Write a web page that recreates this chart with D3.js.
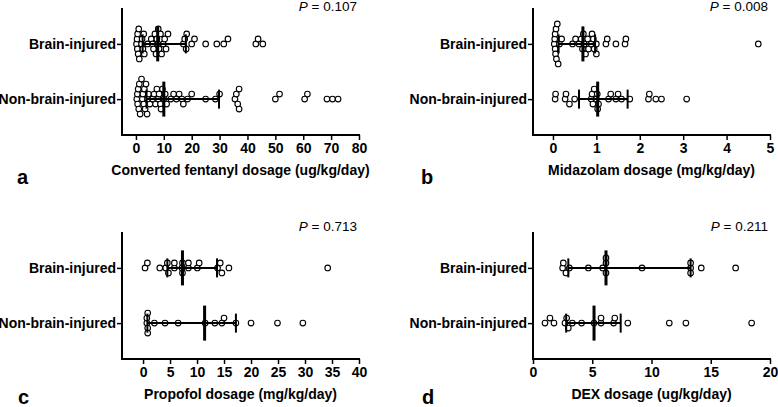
<!DOCTYPE html>
<html>
<head>
<meta charset="utf-8">
<script src="https://cdn.jsdelivr.net/npm/d3@7"></script>
<style>
  body { margin: 0; background: #fff; }
  svg { display: block; font-family: "Liberation Sans", Arial, sans-serif; }
</style>
</head>
<body>
<svg width="778" height="407"></svg>
<script>
var groups = ["Brain-injured", "Non-brain-injured"];

// a: converted fentanyl (ug/kg/day)
var fentanylBrain = [0.2, 0.4, 0.5, 0.6, 0.8, 1.0, 1.2, 2.0, 2.2, 2.5, 2.8, 3.0, 4.2, 5.5, 6.0, 6.3, 6.8, 7.2, 7.5, 7.8,
  8.0, 8.3, 8.8, 9.2, 9.8, 10.3, 10.8, 11.5, 17.0, 17.5, 18.0, 18.2, 20.0, 21.0, 25.0, 29.0, 31.5, 33.0, 43.0, 43.8, 45.5];
var fentanylNon = [0.3, 0.5, 0.6, 0.8, 1.0, 1.2, 1.5, 2.0, 2.3, 2.5, 2.8, 3.0, 3.3, 3.6, 4.0, 4.2, 4.5, 5.0,
  6.0, 6.5, 7.0, 7.5, 8.0, 8.3, 8.8, 9.0, 9.5, 10.0, 10.5, 11.0, 12.5, 13.5, 14.5, 15.5, 16.5, 17.0, 18.5, 20.0,
  25.0, 28.5, 30.0, 35.5, 36.0, 36.5, 37.0, 37.0, 50.0, 51.5, 60.5, 61.5, 68.5, 70.5, 72.5];
var fentanylMedian = [7.8, 10.0], fentanylQ1 = [2.4, 3.8], fentanylQ3 = [17.9, 29.8];

// b: midazolam (mg/kg/day)
var midazolamBrain = [0.03, 0.04, 0.05, 0.05, 0.06, 0.07, 0.08, 0.1, 0.12, 0.15, 0.2, 0.45, 0.52, 0.6, 0.65, 0.68, 0.7,
  0.72, 0.75, 0.8, 0.82, 0.88, 0.9, 0.93, 0.95, 1.0, 1.0, 1.22, 1.25, 1.45, 1.66, 1.68, 4.73];
var midazolamNon = [0.05, 0.06, 0.28, 0.3, 0.38, 0.5, 0.88, 0.9, 0.92, 0.95, 1.0, 1.02, 1.03, 1.05, 1.28, 1.33, 1.45,
  1.5, 1.58, 1.77, 2.2, 2.22, 2.37, 2.5, 3.08];
var midazolamMedian = [0.69, 1.03], midazolamQ1 = [0.13, 0.6], midazolamQ3 = [0.97, 1.72];

// c: propofol (mg/kg/day)
var propofolBrain = [0.37, 0.8, 3.1, 4.2, 4.5, 4.7, 5.8, 5.8, 7.2, 7.3, 7.3, 8.4, 8.4, 10.05, 10.4, 13.8, 14.3, 14.6, 15.9, 34.2];
var propofolNon = [0.7, 0.7, 0.86, 0.86, 0.86, 2.1, 4.07, 6.5, 11.5, 13.3, 14.6, 15.0, 17.2, 20.0, 24.9, 29.6];
var propofolMedian = [7.3, 11.4], propofolQ1 = [4.5, 0.8], propofolQ3 = [13.7, 17.2];

// d: DEX (ug/kg/day)
var dexBrain = [2.5, 2.56, 2.78, 3.07, 4.67, 5.88, 6.16, 6.16, 6.16, 9.2, 13.3, 13.3, 13.3, 14.2, 17.1];
var dexNon = [1.01, 1.43, 1.77, 2.7, 2.84, 2.98, 3.32, 4.1, 5.15, 5.74, 5.74, 6.8, 6.9, 8.0, 11.5, 12.9, 18.45];
var dexMedian = [6.16, 5.15], dexQ1 = [2.98, 2.8], dexQ3 = [13.3, 7.4];

var pValues = ["0.107", "0.008", "0.713", "0.211"];
var axisTitles = ["Converted fentanyl dosage (ug/kg/day)", "Midazolam dosage (mg/kg/day)",
  "Propofol dosage (mg/kg/day)", "DEX dosage (ug/kg/day)"];
var letters = ["a", "b", "c", "d"];
var domains = [[-5, 80], [-0.46, 5], [-3.9, 40], [0, 20]];
var tickVals = [d3.range(0, 81, 10), d3.range(0, 6, 1), d3.range(0, 41, 5), d3.range(0, 21, 5)];

var panels = [
  {sets: [fentanylBrain, fentanylNon], med: fentanylMedian, q1: fentanylQ1, q3: fentanylQ3, left: 122, right: 359, top: 8, bottom: 135, lx: 17},
  {sets: [midazolamBrain, midazolamNon], med: midazolamMedian, q1: midazolamQ1, q3: midazolamQ3, left: 533, right: 770, top: 8, bottom: 135, lx: 421},
  {sets: [propofolBrain, propofolNon], med: propofolMedian, q1: propofolQ1, q3: propofolQ3, left: 122, right: 359, top: 232, bottom: 359, lx: 18},
  {sets: [dexBrain, dexNon], med: dexMedian, q1: dexQ1, q3: dexQ3, left: 533, right: 770, top: 232, bottom: 359, lx: 422}
];

var svg = d3.select("svg");
var r = 2.8, step = 5, minDist = 5;
var font = "\"Liberation Sans\", Arial, sans-serif";

function swarm(values, x, cy) {
  var placed = [];
  values.slice().sort(d3.ascending).forEach(function(v) {
    var px = x(v);
    for (var k = 0; k < 40; k++) {
      var off = k === 0 ? 0 : (k % 2 ? -1 : 1) * Math.ceil(k / 2) * step;
      var py = cy + off;
      if (placed.every(function(p) { return Math.hypot(p.x - px, p.y - py) >= minDist; })) {
        placed.push({x: px, y: py});
        break;
      }
    }
  });
  return placed;
}

panels.forEach(function(p, i) {
  var g = svg.append("g");
  var x = d3.scaleLinear().domain(domains[i]).range([p.left, p.right]);
  var y = d3.scalePoint().domain(groups).range([p.top, p.bottom]).padding(0.65);

  // points
  groups.forEach(function(grp, j) {
    g.append("g").selectAll("circle")
      .data(swarm(p.sets[j], x, y(grp)))
      .enter().append("circle")
      .attr("cx", function(d) { return d.x; })
      .attr("cy", function(d) { return d.y; })
      .attr("r", r)
      .attr("fill", "#fff")
      .attr("stroke", "#000")
      .attr("stroke-width", 1.1);
  });

  // median + IQR
  groups.forEach(function(grp, j) {
    var cy = y(grp);
    g.append("line").attr("x1", x(p.q1[j])).attr("x2", x(p.q3[j])).attr("y1", cy).attr("y2", cy)
      .attr("stroke", "#000").attr("stroke-width", 2);
    [p.q1[j], p.q3[j]].forEach(function(v) {
      g.append("line").attr("x1", x(v)).attr("x2", x(v)).attr("y1", cy - 9.5).attr("y2", cy + 9.5)
        .attr("stroke", "#000").attr("stroke-width", 2);
    });
    g.append("line").attr("x1", x(p.med[j])).attr("x2", x(p.med[j])).attr("y1", cy - 17.5).attr("y2", cy + 17.5)
      .attr("stroke", "#000").attr("stroke-width", 3);
  });

  // axes
  var xa = g.append("g").attr("transform", "translate(0," + p.bottom + ")")
    .call(d3.axisBottom(x).tickValues(tickVals[i]).tickFormat(d3.format("d"))
      .tickSize(5).tickSizeOuter(0).tickPadding(3));
  var ya = g.append("g").attr("transform", "translate(" + p.left + ",0)")
    .call(d3.axisLeft(y).tickSize(5).tickSizeOuter(0).tickPadding(1));
  [xa, ya].forEach(function(a) {
    a.select(".domain").attr("stroke-width", 2);
    a.selectAll(".tick line").attr("stroke-width", 1.5);
    a.selectAll("text").attr("font-family", font)
      .attr("font-size", 14).attr("font-weight", "bold").attr("fill", "#000");
  });
  xa.select(".domain").attr("d", "M" + (p.left - 1) + ",0H" + (p.right + 1));
  ya.select(".domain").attr("d", "M0," + p.top + "V" + (p.bottom + 1));

  g.append("text").attr("x", (p.left + p.right) / 2).attr("y", p.bottom + 40)
    .attr("text-anchor", "middle").attr("font-size", 14).attr("font-weight", "bold")
    .text(axisTitles[i]);

  g.append("text").attr("x", p.lx).attr("y", p.bottom + (i < 2 ? 49 : 45))
    .attr("font-size", 20).attr("font-weight", "bold").text(letters[i]);

  var pt = g.append("text").attr("x", p.right - 2).attr("y", p.top + (i < 2 ? 3 : -1))
    .attr("text-anchor", "end").attr("font-size", 13.5);
  pt.append("tspan").attr("font-style", "italic").text("P");
  pt.append("tspan").text(" = " + pValues[i]);
});
</script>
</body>
</html>
